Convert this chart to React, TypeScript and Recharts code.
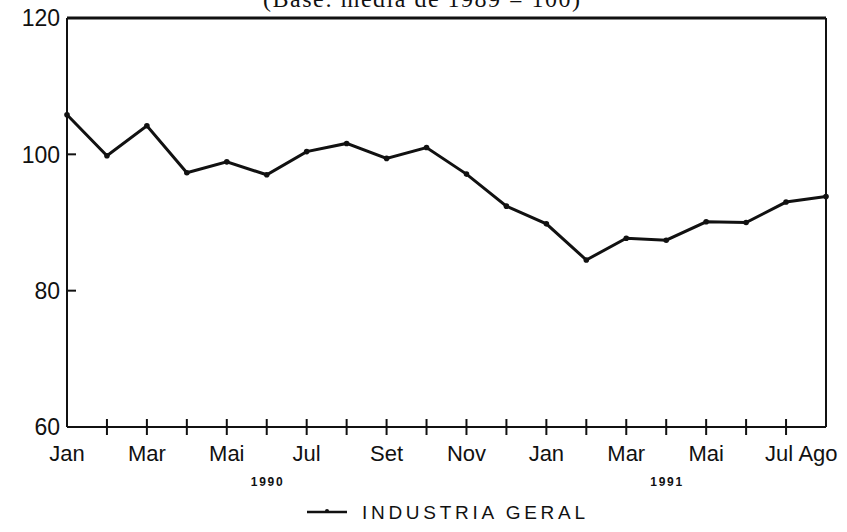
import React from 'react'
import {
  LineChart,
  Line,
  XAxis,
  YAxis,
  ReferenceLine,
  Legend,
  Customized,
} from 'recharts'

// meses jan/1990 - ago/1991
const meses = [
  'Jan 90', 'Fev 90', 'Mar 90', 'Abr 90', 'Mai 90', 'Jun 90',
  'Jul 90', 'Ago 90', 'Set 90', 'Out 90', 'Nov 90', 'Dez 90',
  'Jan 91', 'Fev 91', 'Mar 91', 'Abr 91', 'Mai 91', 'Jun 91',
  'Jul 91', 'Ago 91',
]

const industriaGeral = [
  105.8, 99.8, 104.2, 97.3, 98.9, 97.0, 100.4, 101.6, 99.4, 101.0,
  97.1, 92.4, 89.8, 84.5, 87.7, 87.4, 90.1, 90.0, 93.0, 93.8,
]

const rotulos = [
  'Jan', '', 'Mar', '', 'Mai', '', 'Jul', '', 'Set', '', 'Nov', '',
  'Jan', '', 'Mar', '', 'Mai', '', 'Jul', 'Ago',
]

// ano escrito abaixo do mes de indice 5 e 15
const anos: Record<number, string> = { 5: '1990', 15: '1991' }

const yTicks = [60, 80, 100, 120]

const data = meses.map((mes, i) => ({ mes, geral: industriaGeral[i] }))

const INK = '#111'
const SANS = '"Liberation Sans", Arial, Helvetica, sans-serif'

function MesTick(props: any) {
  const { x, y, payload } = props
  const i = payload.index
  const last = meses.length - 1
  let dx = 0
  if (i === last) dx = -8
  if (i === last - 1) dx = -7
  return (
    <g>
      {i > 0 && i < last && (
        <line x1={x} x2={x} y1={y - 8} y2={y + 8} stroke={INK} strokeWidth={2} />
      )}
      {rotulos[i] && (
        <text x={x + dx} y={y + 34} textAnchor="middle" fill={INK} fontSize={22} fontFamily={SANS}>
          {rotulos[i]}
        </text>
      )}
      {anos[i] && (
        <text
          x={x}
          y={y + 59}
          textAnchor="middle"
          fill={INK}
          fontSize={12}
          fontWeight="bold"
          fontFamily={SANS}
          textLength={32}
          lengthAdjust="spacing"
        >
          {anos[i]}
        </text>
      )}
    </g>
  )
}

function ValTick(props: any) {
  const { x, y, payload } = props
  return (
    <g>
      <line x1={x} x2={x + 9} y1={y} y2={y} stroke={INK} strokeWidth={2} />
      <text x={x - 7} y={y} dy="0.36em" textAnchor="end" fill={INK} fontSize={23} fontFamily={SANS}>
        {payload.value}
      </text>
    </g>
  )
}

function Legenda() {
  return (
    <svg width={826} height={30} style={{ display: 'block' }}>
      <line x1={307} x2={347} y1={15} y2={15} stroke={INK} strokeWidth={2.5} />
      <circle cx={327} cy={14} r={2} fill={INK} />
      <text
        x={362}
        y={22}
        fill={INK}
        fontSize={19}
        fontFamily={SANS}
        textLength={223}
        lengthAdjust="spacing"
      >
        INDUSTRIA GERAL
      </text>
    </svg>
  )
}

function Titulo() {
  return (
    <text
      x={263}
      y={7}
      fill={INK}
      fontSize={24}
      fontFamily='"Liberation Serif", "Times New Roman", serif'
      textLength={317}
      lengthAdjust="spacing"
    >
      (Base: média de 1989 = 100)
    </text>
  )
}

export default function App() {
  return (
    <div style={{ position: 'absolute', left: 0, top: 0, width: 847, height: 532, background: '#fff' }}>
      <LineChart
        width={847}
        height={532}
        data={data}
        margin={{ top: 18, right: 21, left: 0, bottom: 5 }}
      >
        <XAxis
          dataKey="mes"
          interval={0}
          tickLine={false}
          tickSize={0}
          tickMargin={0}
          height={70}
          tick={<MesTick />}
          axisLine={{ stroke: INK, strokeWidth: 2 }}
        />
        <YAxis
          domain={[60, 120]}
          ticks={yTicks}
          width={67}
          tickLine={false}
          tickSize={0}
          tickMargin={0}
          tick={<ValTick />}
          axisLine={{ stroke: INK, strokeWidth: 2 }}
        />
        <ReferenceLine y={120} stroke={INK} strokeWidth={3} />
        <ReferenceLine x={meses[meses.length - 1]} stroke={INK} strokeWidth={2} />
        <Legend verticalAlign="bottom" height={30} content={<Legenda />} />
        <Customized component={<Titulo />} />
        <Line
          type="linear"
          dataKey="geral"
          stroke={INK}
          strokeWidth={3}
          dot={{ r: 2.8, fill: INK, stroke: INK, strokeWidth: 0 }}
          isAnimationActive={false}
        />
      </LineChart>
    </div>
  )
}
